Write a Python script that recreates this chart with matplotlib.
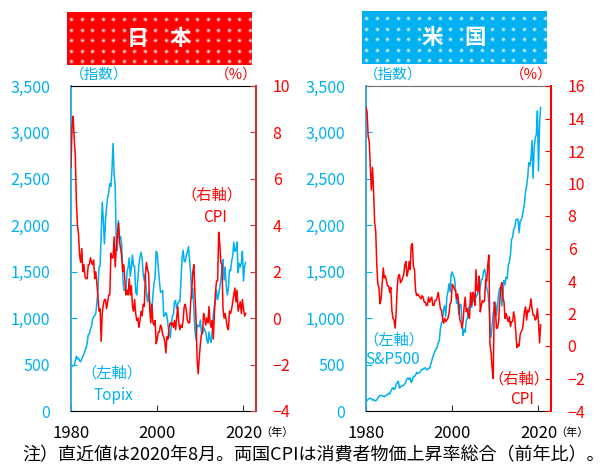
import numpy as np
import matplotlib
matplotlib.use("Agg")
import matplotlib.pyplot as plt

plt.rcParams['font.family'] = ['Noto Sans CJK JP', 'DejaVu Sans']

CYAN = "#00B0F0"
RED = "#FF0000"

# quarterly values, 1980Q1 .. 2020Q3
topix = [
    460, 480, 490, 495,  540, 590, 560, 570,  540, 530, 560, 590,
    610, 650, 680, 730,  820, 830, 880, 910,  990, 1010, 1030, 1050,
    1160, 1300, 1550, 1560,  1900, 2250, 2050, 1800,  2050, 2200, 2300, 2350,
    2450, 2420, 2600, 2880,  2550, 2420, 1800, 1730,  2050, 1860, 1880, 1800,
    1450, 1300, 1300, 1300,  1500, 1550, 1650, 1450,  1550, 1680, 1560, 1560,
    1280, 1250, 1420, 1570,  1660, 1710, 1640, 1470,  1400, 1470, 1260, 1175,
    1280, 1160, 1050, 1090,  1250, 1380, 1440, 1720,  1700, 1540, 1400, 1280,
    1280, 1300, 1020, 1030,  1060, 1030, 920, 840,  790, 900, 1020, 1040,
    1180, 1190, 1100, 1150,  1180, 1180, 1400, 1650,  1730, 1610, 1610, 1680,
    1710, 1770, 1620, 1480,  1210, 1320, 1090, 860,  770, 930, 910, 910,
    980, 840, 830, 900,  870, 850, 760, 730,  850, 770, 740, 860,
    1030, 1130, 1190, 1300,  1200, 1260, 1330, 1410,  1540, 1630, 1410, 1550,
    1350, 1250, 1320, 1520,  1510, 1610, 1670, 1820,  1720, 1730, 1820, 1490,
    1590, 1550, 1590, 1720,  1400, 1560, 1600,
]
jp_cpi = [
    6.5, 8.3, 8.7, 7.7,  7.0, 5.0, 4.0, 3.6,  2.7, 2.4, 3.0, 2.0,
    2.3, 1.8, 1.7, 1.7,  2.3, 2.3, 2.6, 2.4,  2.3, 2.5, 1.7, 2.0,
    1.5, 0.9, 0.3, 0.4,  -1.0, 0.2, 0.6, 0.8,  0.8, 0.4, 0.7, 1.0,
    1.0, 2.8, 2.6, 2.6,  3.5, 2.2, 3.0, 3.6,  4.1, 3.3, 3.0, 2.7,
    2.0, 2.3, 1.6, 1.0,  1.2, 1.0, 1.7, 1.0,  1.4, 0.5, 0.3, 0.8,
    0.2, -0.1, 0.0, -0.4,  -0.1, 0.3, 0.1, 0.6,  0.5, 1.9, 2.4, 2.1,
    1.9, 0.4, -0.2, 0.6,  -0.2, -0.3, -0.1, -1.1,  -0.9, -0.6, -0.6, -0.3,
    -0.4, -0.7, -0.8, -1.0,  -1.5, -0.8, -0.9, -0.4,  -0.2, -0.3, -0.2, -0.4,
    -0.1, -0.5, 0.0, 0.5,  -0.2, -0.5, -0.3, -0.4,  -0.1, 0.5, 0.6, 0.3,
    -0.1, -0.2, -0.2, 0.7,  1.2, 2.0, 2.3, 1.0,  -0.1, -1.8, -2.4, -1.7,
    -1.1, -0.7, -0.6, 0.2,  0.0, -0.3, 0.0, -0.2,  0.5, -0.2, -0.4, -0.1,
    -0.9, 0.2, 1.1, 1.6,  1.6, 3.7, 3.2, 2.4,  2.3, 0.4, 0.0, 0.2,
    -0.1, -0.4, -0.5, 0.3,  0.2, 0.4, 0.7, 1.0,  1.3, 0.7, 1.2, 0.3,
    0.5, 0.7, 0.2, 0.8,  0.4, 0.1, 0.2,
]
sp500 = [
    102, 114, 125, 136,  136, 131, 117, 123,  112, 110, 120, 141,
    153, 168, 166, 165,  159, 153, 166, 167,  181, 192, 182, 211,
    238, 251, 231, 242,  291, 304, 321, 247,  258, 273, 271, 278,
    294, 317, 349, 353,  339, 358, 306, 330,  375, 371, 387, 417,
    404, 408, 418, 436,  451, 450, 459, 466,  445, 444, 462, 459,
    500, 544, 584, 615,  645, 670, 687, 740,  757, 885, 947, 970,
    1100, 1133, 1017, 1229,  1286, 1372, 1282, 1469,  1498, 1454, 1436, 1320,
    1160, 1224, 1040, 1148,  1147, 989, 815, 880,  848, 975, 996, 1112,
    1126, 1140, 1114, 1212,  1180, 1191, 1228, 1248,  1294, 1270, 1335, 1418,
    1420, 1503, 1527, 1468,  1322, 1280, 1166, 903,  797, 919, 1057, 1115,
    1169, 1031, 1141, 1258,  1326, 1321, 1131, 1258,  1408, 1362, 1441, 1426,
    1569, 1606, 1682, 1848,  1872, 1960, 1972, 2059,  2068, 2063, 1920, 2044,
    2060, 2099, 2168, 2239,  2363, 2423, 2519, 2674,  2640, 2718, 2914, 2507,
    2834, 2942, 2977, 3231,  2585, 3100, 3270,
]
us_cpi = [
    14.7, 14.4, 12.9, 12.6,  11.0, 9.6, 11.0, 9.6,  7.6, 7.1, 5.0, 3.8,
    3.6, 2.6, 2.9, 3.8,  4.8, 4.2, 4.3, 4.0,  3.7, 3.7, 3.3, 3.6,
    2.2, 1.7, 1.6, 1.1,  2.1, 3.7, 4.3, 4.4,  3.9, 4.0, 4.2, 4.4,
    5.0, 5.2, 4.3, 4.6,  5.2, 4.7, 6.2, 6.3,  4.9, 4.7, 3.4, 3.1,
    3.2, 3.1, 3.0, 2.9,  3.1, 3.0, 2.7, 2.7,  2.5, 2.5, 3.0, 2.7,
    2.9, 3.0, 2.5, 2.5,  2.8, 2.8, 3.0, 3.3,  2.8, 2.3, 2.2, 1.7,
    1.4, 1.7, 1.5, 1.6,  1.7, 2.0, 2.6, 2.7,  3.8, 3.7, 3.5, 3.4,
    2.9, 3.2, 2.6, 1.6,  1.5, 1.1, 1.5, 2.4,  3.0, 2.1, 2.3, 1.9,
    1.7, 3.3, 2.5, 3.3,  3.1, 2.5, 4.7, 3.4,  3.4, 4.3, 2.1, 2.5,
    2.8, 2.7, 2.8, 4.1,  4.0, 5.0, 5.6, 0.1,  -0.4, -1.4, -2.0, 2.7,
    2.3, 1.1, 1.1, 1.5,  2.7, 3.6, 3.9, 3.0,  2.7, 1.7, 2.0, 1.7,
    1.5, 1.8, 1.2, 1.5,  1.5, 2.1, 1.7, 0.8,  -0.1, 0.1, 0.0, 0.7,
    0.9, 1.0, 1.5, 2.1,  2.4, 1.6, 2.2, 2.1,  2.4, 2.9, 2.3, 1.9,
    1.9, 1.6, 1.7, 2.3,  1.5, 0.2, 1.3,
]

stock_ticks = [0, 500, 1000, 1500, 2000, 2500, 3000, 3500]
jp_cpi_ticks = [-4, -2, 0, 2, 4, 6, 8, 10]
us_cpi_ticks = [-4, -2, 0, 2, 4, 6, 8, 10, 12, 14, 16]
year_ticks = [1980, 2000, 2020]

W, H = 606, 466
fig = plt.figure(figsize=(W / 100, H / 100), dpi=100)


def box(l, t, r, b):
    # pixel box -> figure rect
    return [l / W, 1 - b / H, (r - l) / W, (b - t) / H]


def to_fig(x, y):
    return x / W, 1 - y / H


def title_box(l, t, r, b, color, text):
    ax = fig.add_axes(box(l, t, r, b))
    ax.set_facecolor(color)
    ax.set_xlim(0, r - l)
    ax.set_ylim(0, b - t)
    gx, gy = np.meshgrid(np.arange(4, r - l, 10.5), np.arange(4, b - t, 10.5))
    ax.plot(gx.ravel(), gy.ravel(), 'o', color='white', ms=3.2, alpha=0.3, mec='none')
    ax.plot(gx.ravel(), gy.ravel(), 'o', color='white', ms=1.5, mec='none')
    ax.set_xticks([])
    ax.set_yticks([])
    for s in ax.spines.values():
        s.set_visible(False)
    ax.text(0.5, 0.5, text, transform=ax.transAxes, ha='center', va='center',
            color='white', fontsize=15.5, fontweight='bold')


def panel(l, r, stock, cpi, cpi_ticks, left_spine, right_spine, top_spine):
    ax = fig.add_axes(box(l, 86, r, 411))
    years = 1980 + np.arange(len(stock)) / 4
    ax.plot(years, stock, color=CYAN, lw=1.1)
    ax.set_xlim(1980, 2022.9)
    ax.set_ylim(0, 3500)
    ax.set_yticks(stock_ticks)
    ax.set_yticklabels([f"{v:,}" for v in stock_ticks])
    ax.set_xticks(year_ticks)
    ax.set_xticklabels([str(y) for y in year_ticks])
    ax.tick_params(axis='y', direction='in', length=4, colors=CYAN, labelsize=11.5, pad=15)
    ax.tick_params(axis='x', direction='in', length=4, colors='#333333',
                   labelcolor='black', labelsize=12, pad=10)
    ax.spines['left'].set_color(left_spine)
    ax.spines['left'].set_linewidth(1.3)
    ax.spines['top'].set_color(top_spine)
    ax.spines['bottom'].set_color('black')
    ax.spines['right'].set_visible(False)

    ax2 = ax.twinx()
    ax2.plot(1980 + np.arange(len(cpi)) / 4, cpi, color=RED, lw=1.1)
    ax2.set_ylim(cpi_ticks[0], cpi_ticks[-1])
    ax2.set_yticks(cpi_ticks)
    ax2.tick_params(axis='y', direction='in', length=4, colors=right_spine,
                    labelcolor=RED, labelsize=11.5, pad=12)
    ax2.spines['right'].set_color(right_spine)
    ax2.spines['right'].set_linewidth(1.5)
    for s in ['left', 'top', 'bottom']:
        ax2.spines[s].set_visible(False)
    return ax


title_box(67, 12, 252, 65, RED, "日　本")
title_box(362, 11, 547, 64, CYAN, "米　国")

panel(71, 256, topix, jp_cpi, jp_cpi_ticks, "#2AA3D5", "#C0393B", "black")
panel(366, 551, sp500, us_cpi, us_cpi_ticks, "#2AA3D5", RED, "#6E6E6E")


def label(x, y, s, color, size=11, ha='center'):
    fx, fy = to_fig(x, y)
    fig.text(fx, fy, s, color=color, fontsize=size, ha=ha, va='center')


# axis unit captions
label(70, 75, "（指数）", CYAN, 10.5, 'left')
label(258, 75, "（%）", RED, 10.5, 'right')
label(364, 75, "（指数）", CYAN, 10.5, 'left')
label(553, 75, "（%）", RED, 10.5, 'right')

# series labels
label(212, 195, "（右軸）", RED)
label(215, 217, "CPI", RED)
label(112, 373, "（左軸）", CYAN)
label(113, 396, "Topix", CYAN)
label(394, 340, "（左軸）", CYAN)
label(393, 360, "S&P500", CYAN)
label(519, 379, "（右軸）", RED)
label(522, 400, "CPI", RED)

# year unit
label(260, 433, "（年）", 'black', 8, 'left')
label(555, 433, "（年）", 'black', 8, 'left')

label(22, 455, "注）直近値は2020年8月。両国CPIは消費者物価上昇率総合（前年比）。",
      'black', 13, 'left')

fig.savefig("out.png", dpi=100)
